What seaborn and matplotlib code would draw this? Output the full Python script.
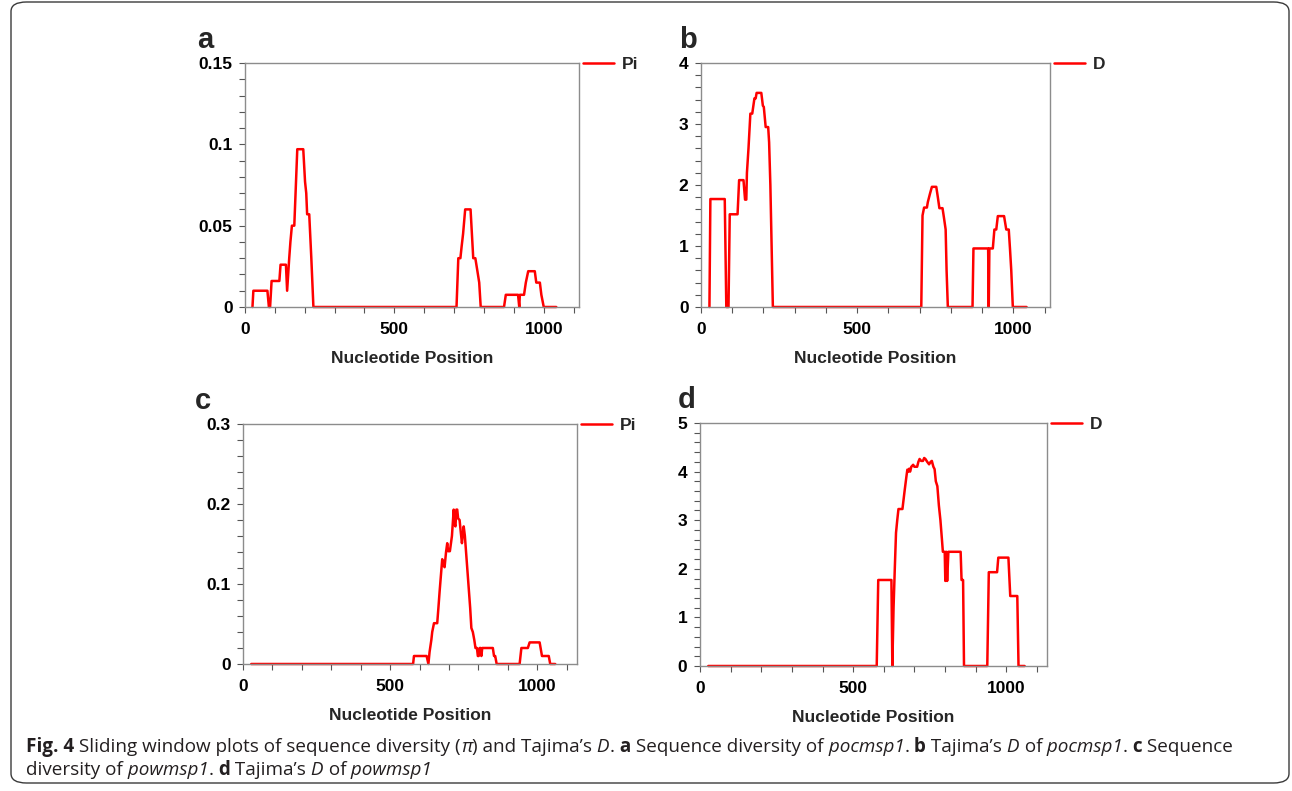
import matplotlib
matplotlib.use("Agg")
import matplotlib.pyplot as plt
from matplotlib.patches import FancyBboxPatch
from matplotlib.ticker import MultipleLocator
import seaborn as sns

# panel a: sequence diversity (Pi) of pocmsp1
a_pos = [25, 28, 75, 80, 84, 89, 115, 119, 137, 141, 148, 152, 157, 165, 175, 195, 201, 205,
         208, 215, 222, 229, 708, 714, 721, 725, 730, 737, 755, 764, 771, 778, 784, 789, 867,
         873, 914, 918, 920, 934, 940, 948, 970, 975, 987, 992, 1000, 1042]
a_pi = [0, 0.010, 0.010, 0, 0, 0.016, 0.016, 0.026, 0.026, 0.010, 0.030, 0.040, 0.050, 0.050,
        0.097, 0.097, 0.077, 0.070, 0.057, 0.057, 0.030, 0, 0, 0.030, 0.030, 0.037, 0.045,
        0.060, 0.060, 0.030, 0.030, 0.022, 0.015, 0, 0, 0.0075, 0.0075, 0.0, 0.0075, 0.0075,
        0.015, 0.022, 0.022, 0.015, 0.015, 0.0075, 0, 0]

# panel b: Tajima's D of pocmsp1
b_pos = [27, 30, 76, 81, 88, 92, 117, 122, 136, 141, 145, 147, 152, 158, 164, 171, 175, 178,
         193, 198, 201, 207, 215, 218, 222, 226, 230, 705, 709, 714, 723, 726, 729, 733, 739,
         753, 758, 763, 773, 778, 783, 786, 790, 869, 872, 919, 921, 923, 934, 939, 945, 950,
         970, 977, 985, 989, 993, 998, 1042]
b_d = [0, 1.77, 1.77, 0, 0, 1.52, 1.52, 2.08, 2.08, 1.76, 1.76, 2.2, 2.6, 3.17, 3.17, 3.42,
       3.42, 3.51, 3.51, 3.3, 3.28, 2.95, 2.95, 2.7, 2.0, 1.0, 0, 0, 1.5, 1.63, 1.63, 1.72,
       1.78, 1.86, 1.97, 1.97, 1.8, 1.62, 1.62, 1.45, 1.27, 0.6, 0, 0, 0.96, 0.96, 0, 0.96,
       0.96, 1.27, 1.27, 1.49, 1.49, 1.27, 1.27, 0.95, 0.6, 0, 0]

# panel c: sequence diversity (Pi) of powmsp1
c_pos = [28, 578, 581, 624, 630, 634, 640, 643, 649, 660, 664, 668, 677, 680, 685, 690, 694,
         697, 703, 710, 716, 719, 722, 725, 728, 731, 736, 740, 744, 750, 754, 760, 766, 772,
         776, 781, 786, 790, 795, 798, 801, 804, 808, 810, 813, 849, 853, 857, 862, 940, 946,
         968, 974, 1008, 1016, 1039, 1044, 1061]
c_pi = [0, 0, 0.010, 0.010, 0, 0.015, 0.030, 0.040, 0.051, 0.051, 0.070, 0.090, 0.131, 0.125,
        0.121, 0.140, 0.151, 0.141, 0.141, 0.160, 0.193, 0.175, 0.172, 0.193, 0.193, 0.182,
        0.180, 0.165, 0.151, 0.172, 0.160, 0.130, 0.100, 0.070, 0.045, 0.040, 0.030, 0.020,
        0.020, 0.010, 0.010, 0.020, 0.020, 0.010, 0.020, 0.020, 0.010, 0.010, 0, 0, 0.020,
        0.020, 0.027, 0.027, 0.010, 0.010, 0, 0]

# panel d: Tajima's D of powmsp1
d_pos = [27, 577, 582, 625, 628, 632, 636, 640, 644, 648, 661, 668, 674, 677, 680, 683, 686,
         690, 696, 700, 709, 713, 717, 722, 728, 732, 736, 742, 748, 753, 757, 762, 766, 770,
         775, 780, 785, 790, 793, 799, 801, 804, 807, 811, 851, 854, 859, 862, 938, 943, 970,
         974, 1007, 1013, 1036, 1040, 1060]
d_d = [0, 0, 1.77, 1.77, 0, 1.2, 2.0, 2.74, 3.0, 3.23, 3.23, 3.6, 3.9, 4.04, 4.0, 4.06, 4.0,
       4.1, 4.14, 4.1, 4.1, 4.2, 4.26, 4.22, 4.22, 4.28, 4.26, 4.2, 4.15, 4.2, 4.22, 4.1,
       4.05, 3.8, 3.7, 3.3, 3.0, 2.6, 2.35, 2.35, 1.75, 2.35, 1.75, 2.35, 2.35, 1.77, 1.77,
       0, 0, 1.93, 1.93, 2.23, 2.23, 1.44, 1.44, 0, 0]

pi_ticks_a = [0, 0.05, 0.1, 0.15]
pi_labels_a = ["0", "0.05", "0.1", "0.15"]
pi_ticks_c = [0, 0.1, 0.2, 0.3]
pi_labels_c = ["0", "0.1", "0.2", "0.3"]
x_ticks = [0, 500, 1000]

# caption pieces: (text, style) with n = normal, b = bold, i = italic
caption_line1 = [("Fig. 4", "b"), (" Sliding window plots of sequence diversity (", "n"), ("π", "i"),
                 (") and Tajima’s", "n"), (" D", "i"), (".", "n"), (" a", "b"),
                 (" Sequence diversity of", "n"), (" pocmsp1", "i"), (".", "n"), (" b", "b"),
                 (" Tajima’s", "n"), (" D", "i"), (" of", "n"), (" pocmsp1", "i"), (".", "n"),
                 (" c", "b"), (" Sequence", "n")]
caption_line2 = [("diversity of", "n"), (" powmsp1", "i"), (".", "n"), (" d", "b"),
                 (" Tajima’s", "n"), (" D", "i"), (" of", "n"), (" powmsp1", "i")]

sns.set_style("ticks")
plt.rcParams["font.family"] = ["Liberation Sans", "DejaVu Sans"]

W, H = 1292, 791
fig = plt.figure(figsize=(W / 100, H / 100), dpi=100)


def box(l, t, r, b):
    return [l / W, 1 - b / H, (r - l) / W, (b - t) / H]


panels = [
    ("a", box(245, 63, 579, 307), a_pos, a_pi, "Pi", (0, 1118), (0, 0.15), pi_ticks_a, pi_labels_a, 0.01),
    ("b", box(701, 63, 1050, 307), b_pos, b_d, "D", (0, 1117), (0, 4), [0, 1, 2, 3, 4], None, 0.2),
    ("c", box(243, 424, 577, 664), c_pos, c_pi, "Pi", (0, 1135), (0, 0.3), pi_ticks_c, pi_labels_c, 0.02),
    ("d", box(700, 423, 1047, 666), d_pos, d_d, "D", (0, 1133), (0, 5), [0, 1, 2, 3, 4, 5], None, 0.2),
]

tick_font = dict(fontsize=12.5, fontweight="bold", color="black")

for letter, rect, xs, ys, name, xlim, ylim, yt, ylab, yminor in panels:
    ax = fig.add_axes(rect)
    sns.lineplot(x=xs, y=ys, sort=False, estimator=None, color="#ff0000",
                 lw=1.8, ax=ax, label=name)
    for ln in ax.lines:
        ln.set_clip_on(False)
    ax.set_xlim(*xlim)
    ax.set_ylim(*ylim)
    ax.set_xticks(x_ticks)
    ax.set_xticklabels([str(v) for v in x_ticks], **tick_font)
    ax.set_yticks(yt)
    ax.set_yticklabels(ylab if ylab else [str(v) for v in yt], **tick_font)
    ax.xaxis.set_minor_locator(MultipleLocator(100))
    ax.yaxis.set_minor_locator(MultipleLocator(yminor))
    ax.tick_params(which="both", length=4, width=0.8, color="#555555")
    ax.tick_params(axis="y", which="major", pad=5)
    ax.tick_params(axis="x", which="major", pad=7)
    for sp in ax.spines.values():
        sp.set_visible(True)
        sp.set_color("#8c8c8c")
        sp.set_linewidth(1.0)
    ax.set_xlabel("Nucleotide Position", fontsize=12.5, fontweight="bold", labelpad=10)
    ax.set_ylabel("")
    # legend sits just right of the top edge
    x1 = rect[0] + rect[2]
    y1 = rect[1] + rect[3]
    ax.legend(loc="center left", bbox_to_anchor=(x1 + 4 / W, y1 - 1 / H), bbox_transform=fig.transFigure,
              frameon=False, borderpad=0, borderaxespad=0, handlelength=1.8, handletextpad=0.45,
              prop=dict(size=12.5, weight="bold"))
    lx = rect[0] - 48 / W if letter in "ac" else rect[0] - 22 / W
    fig.text(lx, y1 + 15 / H, letter, fontsize=21, fontweight="bold", va="baseline", ha="left")

# rounded frame round the whole figure
frame = FancyBboxPatch((11 / W, 8 / H), (1289 - 11) / W, (789 - 8) / H,
                       boxstyle="round,pad=0,rounding_size=0.012", transform=fig.transFigure,
                       fill=False, edgecolor="#3a3a3a", lw=1.0)
frame.set_clip_on(False)
fig.patches.append(frame)

# caption, laid out piece by piece
renderer = fig.canvas.get_renderer()
styles = {"n": dict(fontweight="normal", fontstyle="normal"),
          "b": dict(fontweight="bold", fontstyle="normal"),
          "i": dict(fontweight="normal", fontstyle="italic")}


def caption(pieces, x_px, base_px):
    x = x_px / W
    for txt, st in pieces:
        t = fig.text(x, 1 - base_px / H, txt, fontsize=13.55, family=["Open Sans", "DejaVu Sans"],
                     color="#231f20", va="baseline", ha="left", **styles[st])
        x = t.get_window_extent(renderer).x1 / W


caption(caption_line1, 26, 752)
caption(caption_line2, 26, 775)

fig.savefig("out.png", dpi=100)
